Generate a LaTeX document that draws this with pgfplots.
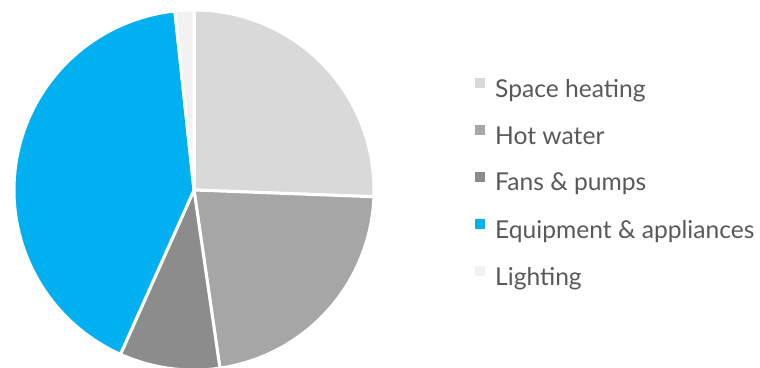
\documentclass[border=0pt]{standalone}
\usepackage{pgfplots}
\pgfplotsset{compat=1.18}
\usepackage{pgfplotstable}
\usepackage{fontspec}
\setmainfont{Lato}
\definecolor{cSH}{HTML}{D9D9D9}
\definecolor{cHW}{HTML}{A6A6A6}
\definecolor{cFP}{HTML}{8C8C8C}
\definecolor{cEA}{HTML}{00B0F0}
\definecolor{cLI}{HTML}{F2F2F2}
\definecolor{txt}{HTML}{595959}
\pgfplotstableread[col sep=comma]{
v,c,label
25.6,cSH,Space heating
22.1,cHW,Hot water
9.0,cFP,Fans \& pumps
41.6,cEA,Equipment \& appliances
1.7,cLI,Lighting
}\piedata
\begin{document}
\begin{tikzpicture}
\begin{axis}[
  scale only axis, width=760pt, height=367pt,
  xmin=0, xmax=760, ymin=0, ymax=367,
  axis lines=none, clip=false,
  legend cell align=left,
  legend image code/.code={\fill[#1,draw=none] (0pt,1pt) rectangle (10pt,11pt);},
  legend style={at={(axis cs:475,290)}, anchor=north west, draw=none, fill=none,
    font=\fontsize{24.6}{28}\selectfont, text=txt, row sep=23.6pt, inner sep=0pt,
    /tikz/every even column/.append style={column sep=0pt},
    /tikz/every odd column/.append style={column sep=8pt}},
]
\coordinate (bbsw) at (axis cs:0,0);
\coordinate (bbne) at (axis cs:760,367);
\def\cum{0}
\pgfplotsforeachungrouped \i in {0,...,4}{
  \pgfplotstablegetelem{\i}{v}\of\piedata \let\v\pgfplotsretval
  \pgfplotstablegetelem{\i}{c}\of\piedata \let\c\pgfplotsretval
  \pgfplotstablegetelem{\i}{label}\of\piedata \let\lab\pgfplotsretval
  \pgfmathsetmacro\a{90-3.6*\cum}
  \pgfmathsetmacro\b{90-3.6*(\cum+\v)}
  \edef\temp{\noexpand\addplot[fill=\c, draw=white, line width=3pt, line join=round, domain=\b:\a, samples=120, variable=\noexpand\t]
    ({194+180*cos(\noexpand\t)},{177+180*sin(\noexpand\t)}) -- (axis cs:194,177) -- cycle;
    \noexpand\addlegendentry{\unexpanded\expandafter{\lab}}}
  \temp
  \pgfmathsetmacro\cum{\cum+\v}
}
\end{axis}
\pgfresetboundingbox
\useasboundingbox (bbsw) rectangle (bbne);
\end{tikzpicture}
\end{document}
